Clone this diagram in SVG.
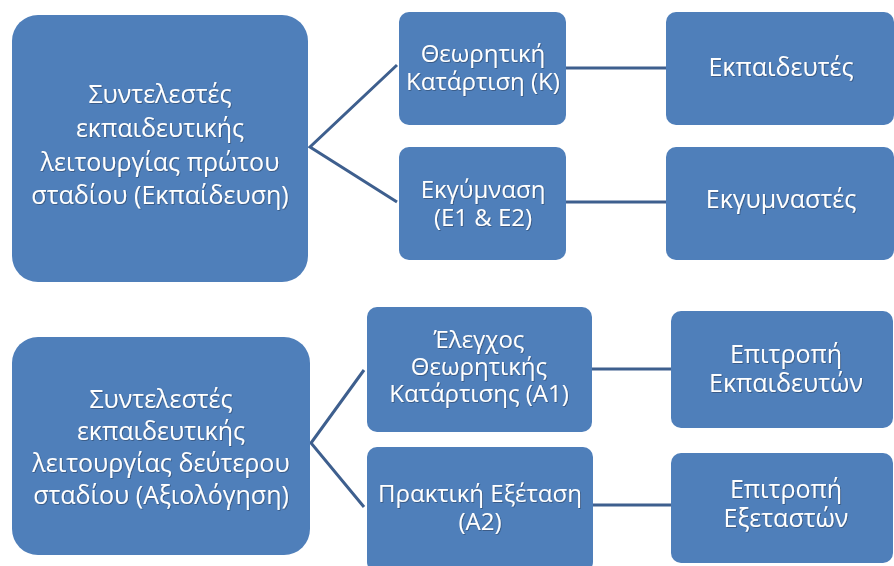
<svg xmlns="http://www.w3.org/2000/svg" width="894" height="566" viewBox="0 0 894 566">
<defs>
<filter id="sh" x="-5%" y="-20%" width="110%" height="140%">
<feDropShadow dx="0.8" dy="0.8" stdDeviation="0.5" flood-color="#1c2f4a" flood-opacity="0.55"/>
</filter>
</defs>
<style>
.box{fill:#4f7fba;}
.t{font-family:"Open Sans","Noto Sans",sans-serif;fill:#ffffff;text-anchor:middle;filter:url(#sh);}
.big{font-size:25px;}
.mid{font-size:24px;}
.rt{font-size:25px;}
.con{stroke:#3e5f8e;stroke-width:3;fill:none;}
</style>
<rect width="894" height="566" fill="#ffffff"/>
<g id="connectors">
<polyline class="con" points="397,65 310,147 397,202"/>
<line class="con" x1="566" y1="68" x2="666" y2="68"/>
<line class="con" x1="566" y1="202" x2="666" y2="202"/>
<polyline class="con" points="364,370 311,443 364,507"/>
<line class="con" x1="592" y1="369" x2="671" y2="369"/>
<line class="con" x1="593" y1="505" x2="671" y2="505"/>
</g>
<g id="n1">
<rect class="box" x="12" y="15" width="296" height="267" rx="26"/>
<text class="t big" x="160" y="103">Συντελεστές</text>
<text class="t big" x="160" y="137">εκπαιδευτικής</text>
<text class="t big" x="160" y="171">λειτουργίας πρώτου</text>
<text class="t big" x="160" y="204">σταδίου (Εκπαίδευση)</text>
</g>
<g id="n2">
<rect class="box" x="399" y="12" width="167" height="113" rx="10"/>
<text class="t mid" x="483" y="62">Θεωρητική</text>
<text class="t mid" x="483" y="90">Κατάρτιση (Κ)</text>
</g>
<g id="n3">
<rect class="box" x="399" y="147" width="167" height="113" rx="10"/>
<text class="t mid" x="483" y="198">Εκγύμναση</text>
<text class="t mid" x="483" y="226">(Ε1 &amp; Ε2)</text>
</g>
<g id="n4">
<rect class="box" x="666" y="12" width="228" height="113" rx="10"/>
<text class="t rt" x="781" y="76">Εκπαιδευτές</text>
</g>
<g id="n5">
<rect class="box" x="666" y="147" width="228" height="113" rx="10"/>
<text class="t rt" x="781" y="208">Εκγυμναστές</text>
</g>
<g id="n6">
<rect class="box" x="12" y="337" width="298" height="218" rx="26"/>
<text class="t big" x="161" y="408">Συντελεστές</text>
<text class="t big" x="161" y="440">εκπαιδευτικής</text>
<text class="t big" x="161" y="472">λειτουργίας δεύτερου</text>
<text class="t big" x="161" y="504">σταδίου (Αξιολόγηση)</text>
</g>
<g id="n7">
<rect class="box" x="367" y="307" width="225" height="125" rx="10"/>
<text class="t mid" x="479" y="348">Έλεγχος</text>
<text class="t mid" x="479" y="375">Θεωρητικής</text>
<text class="t mid" x="479" y="402">Κατάρτισης (Α1)</text>
</g>
<g id="n8">
<rect class="box" x="367" y="447" width="226" height="125" rx="10"/>
<text class="t mid" x="480" y="502">Πρακτική Εξέταση</text>
<text class="t mid" x="480" y="530">(Α2)</text>
</g>
<g id="n9">
<rect class="box" x="671" y="311" width="222" height="117" rx="10"/>
<text class="t rt" x="786" y="363">Επιτροπή</text>
<text class="t rt" x="786" y="392">Εκπαιδευτών</text>
</g>
<g id="n10">
<rect class="box" x="671" y="453" width="222" height="110" rx="10"/>
<text class="t rt" x="786" y="498">Επιτροπή</text>
<text class="t rt" x="786" y="527">Εξεταστών</text>
</g>
</svg>
